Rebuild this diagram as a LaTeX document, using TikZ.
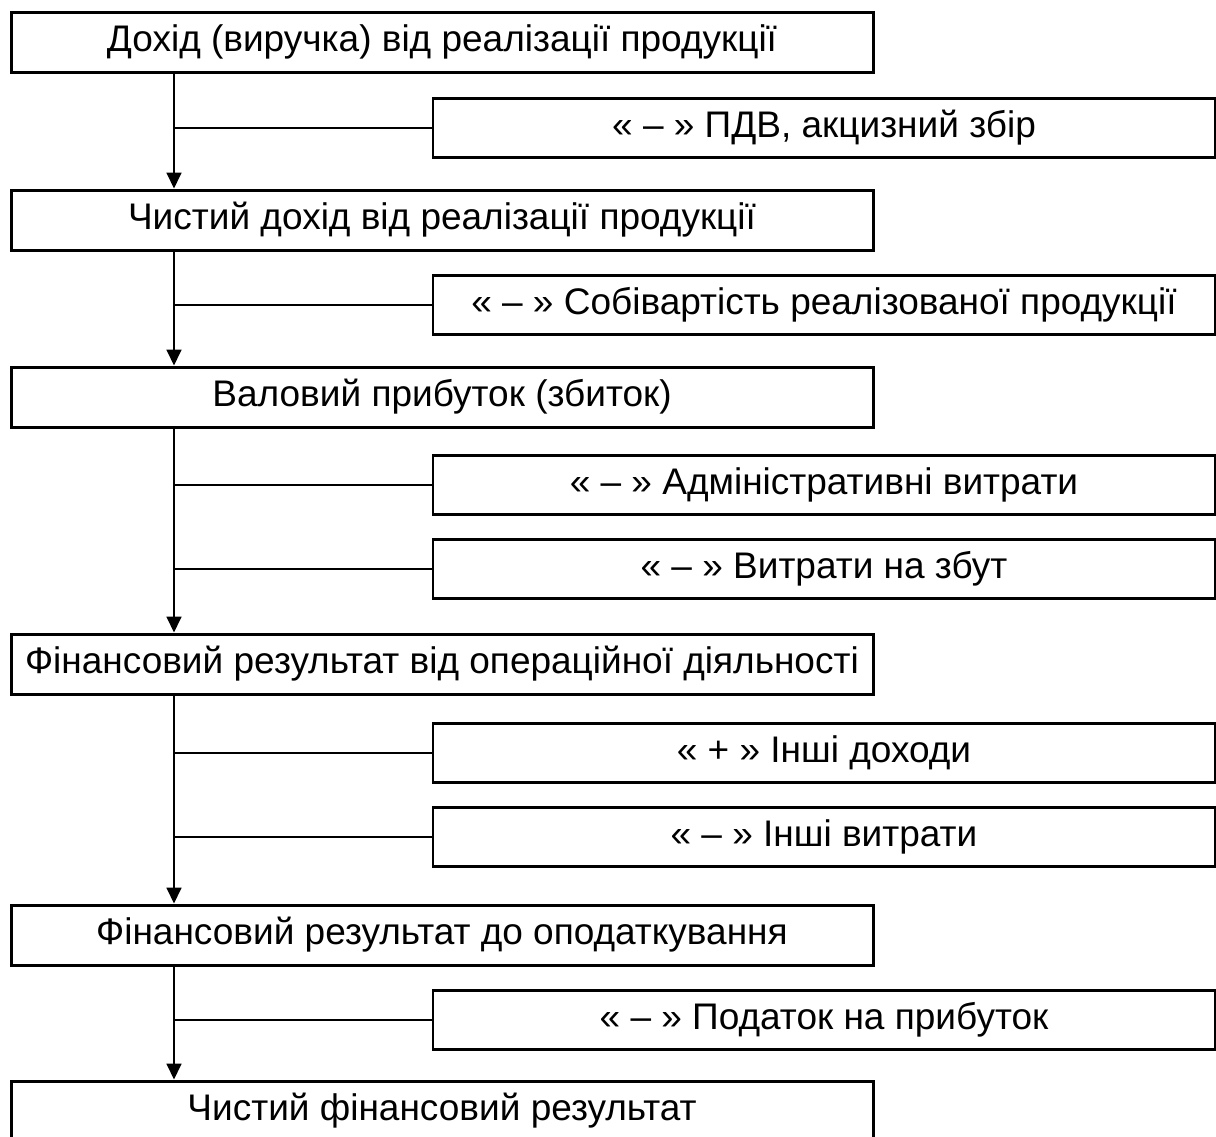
\documentclass[tikz,border=0pt]{standalone}
\usepackage{fontspec}
\setmainfont{Liberation Sans}
\usetikzlibrary{arrows.meta}
\tikzset{>={Triangle[width=15pt,length=16pt]}}
\tikzset{
  stage/.style={draw=black, line width=3pt, minimum width=862pt, minimum height=60pt, inner sep=0pt},
  item/.style={draw=black, line width=2.5pt, minimum width=782pt, minimum height=59pt, inner sep=0pt},
  link/.style={line width=1.8pt}
}

\begin{document}
\begin{tikzpicture}[x=1pt, y=-1pt, font=\fontsize{37}{44}\selectfont]
  \useasboundingbox (0,0) rectangle (1216,1136);
  \coordinate (spine) at (174,0);

  \node[stage] (S1) at (442,42) {Дохід (виручка) від реалізації продукції};
  \node[stage] (S2) at (442,220) {Чистий дохід від реалізації продукції};
  \node[stage] (S3) at (442,397) {Валовий прибуток (збиток)};
  \node[stage] (S4) at (442,664) {Фінансовий результат від операційної діяльності};
  \node[stage] (S5) at (442,935) {Фінансовий результат до оподаткування};
  \node[stage] (S6) at (442,1111) {Чистий фінансовий результат};

  \node[item] (R1) at (824,128) {« – » ПДВ, акцизний збір};
  \node[item] (R2) at (824,305) {« – » Собівартість реалізованої продукції};
  \node[item] (R3) at (824,485) {« – » Адміністративні витрати};
  \node[item] (R4) at (824,569) {« – » Витрати на збут};
  \node[item] (R5) at (824,753) {« + » Інші доходи};
  \node[item] (R6) at (824,837) {« – » Інші витрати};
  \node[item] (R7) at (824,1020) {« – » Податок на прибуток};

  \draw[link, ->] (S1.south -| spine) -- (S2.north -| spine);
  \draw[link, ->] (S2.south -| spine) -- (S3.north -| spine);
  \draw[link, ->] (S3.south -| spine) -- (S4.north -| spine);
  \draw[link, ->] (S4.south -| spine) -- (S5.north -| spine);
  \draw[link, ->] (S5.south -| spine) -- (S6.north -| spine);

  \draw[link] (R1.west) -- (R1.west -| spine);
  \draw[link] (R2.west) -- (R2.west -| spine);
  \draw[link] (R3.west) -- (R3.west -| spine);
  \draw[link] (R4.west) -- (R4.west -| spine);
  \draw[link] (R5.west) -- (R5.west -| spine);
  \draw[link] (R6.west) -- (R6.west -| spine);
  \draw[link] (R7.west) -- (R7.west -| spine);
\end{tikzpicture}
\end{document}
